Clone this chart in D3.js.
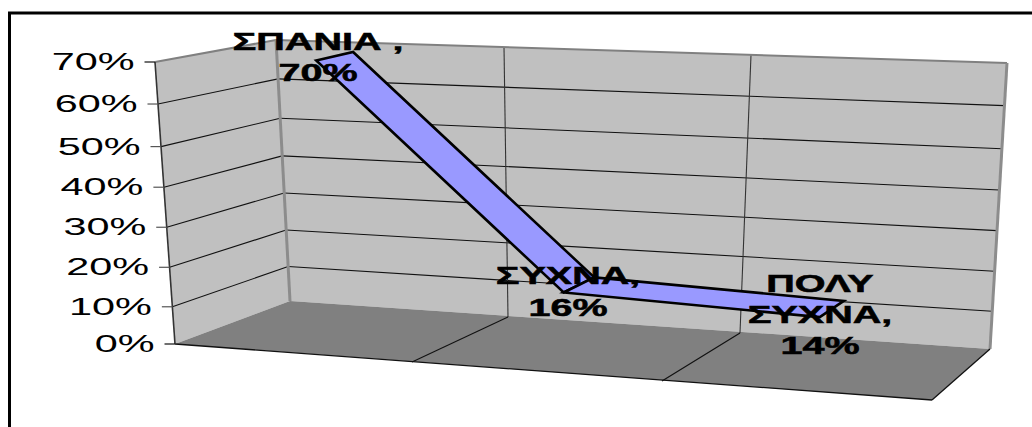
<!DOCTYPE html>
<html>
<head>
<meta charset="utf-8">
<script src="https://cdnjs.cloudflare.com/ajax/libs/d3/7.8.5/d3.min.js"></script>
<style>
  html, body { margin: 0; padding: 0; background: #fff; }
  svg { display: block; }
  text { font-family: "Liberation Sans", Arial, sans-serif; fill: #000; }
</style>
</head>
<body>
<svg id="chart" width="1032" height="427"></svg>
<script>
// Frequency shares, one ribbon vertex per category
const categories = ["ΣΠΑΝΙΑ", "ΣΥΧΝΑ", "ΠΟΛΥ ΣΥΧΝΑ"];
const values = [70, 16, 14];
const tickValues = [0, 10, 20, 30, 40, 50, 60, 70];
const dataLabels = [["ΣΠΑΝΙΑ ,", "70%"], ["ΣΥΧΝΑ,", "16%"], ["ΠΟΛΥ", "ΣΥΧΝΑ,", "14%"]];

const slots = [0, 1, 2, 3];

// The 3D box is described by its four horizontal rails, each one a pair of scales
const rail = (xs, ys) => ({
  x: d3.scaleLinear().domain(slots).range(xs),
  y: d3.scaleLinear().domain(slots).range(ys)
});
const backFloor  = rail([290, 508, 740, 990], [301, 317, 333, 349]);
const backTop    = rail([276, 504, 751, 1007], [40, 47, 55, 63]);
const frontFloor = rail([175, 412, 662, 932], [344, 362, 381, 400]);
const frontTop   = rail([155, 420, 680, 955], [62, 72, 82, 92]);

// Gridline height along a wall, slightly uneven because of the viewing tilt
const gridHeight = d3.scaleLinear()
  .domain(tickValues)
  .range([0, 0.132, 0.272, 0.414, 0.556, 0.70, 0.851, 1]);

// Ribbon height is proportional to the value
const maxV = d3.max(tickValues);
const ribbonHeight = d3.scaleLinear().domain([0, maxV]).range([0, 1]);

// s: position across the categories, h: height 0..1, d: depth (0 back wall, 1 front)
function project(s, h, d) {
  const mix = d3.interpolateNumber;
  const bx = mix(backFloor.x(s), backTop.x(s))(h);
  const by = mix(backFloor.y(s), backTop.y(s))(h);
  const fx = mix(frontFloor.x(s), frontTop.x(s))(h);
  const fy = mix(frontFloor.y(s), frontTop.y(s))(h);
  return [mix(bx, fx)(d), mix(by, fy)(d)];
}

const svg = d3.select("#chart");
const polygon = pts => "M" + pts.map(p => p.join(",")).join("L") + "Z";
const segment = (sel, a, b, stroke, width) => sel.append("line")
  .attr("x1", a[0]).attr("y1", a[1]).attr("x2", b[0]).attr("y2", b[1])
  .attr("stroke", stroke).attr("stroke-width", width);

// Chart frame, open towards the right and the bottom
svg.append("path")
  .attr("d", "M9.5,427V13H1032")
  .attr("fill", "none").attr("stroke", "#000").attr("stroke-width", 3);

const box = svg.append("g");

// Walls and floor
box.append("path")
  .attr("d", polygon([project(0, 0, 1), project(0, 1, 1), project(0, 1, 0), project(0, 0, 0)]))
  .attr("fill", "#c0c0c0");
box.append("path")
  .attr("d", polygon([project(0, 0, 0), project(0, 1, 0), project(3, 1, 0), project(3, 0, 0)]))
  .attr("fill", "#c0c0c0");
box.append("path")
  .attr("d", polygon([project(0, 0, 1), project(0, 0, 0), project(3, 0, 0), project(3, 0, 1)]))
  .attr("fill", "#808080");

// Horizontal gridlines on the side wall and the back wall
tickValues.slice(1, -1).forEach(v => {
  const h = gridHeight(v);
  segment(box, project(0, h, 1), project(0, h, 0), "#111", 1.1);
  segment(box, project(0, h, 0), project(3, h, 0), "#111", 1.1);
});

// Category dividers on the back wall and across the floor
[1, 2].forEach(s => {
  segment(box, project(s, 0, 0), project(s, 1, 0), "#333", 1.1);
  segment(box, project(s, 0, 0), project(s, 0, 1), "#111", 1.1);
});

// Wall outlines
segment(box, project(0, 1, 1), project(0, 1, 0), "#808080", 2);
segment(box, project(0, 1, 0), project(3, 1, 0), "#808080", 2);
segment(box, project(0, 0, 0), project(0, 1, 0), "#8c8c8c", 3);
segment(box, project(3, 0, 0), project(3, 1, 0), "#8c8c8c", 3);
segment(box, project(0, 0, 1), project(3, 0, 1), "#111", 1.3);
segment(box, project(3, 0, 1), project(3, 0, 0), "#111", 1.3);
segment(box, project(0, 0, 1), project(0, 1, 1), "#333", 1.6);

// Wide lettering shared by the axis and the data labels
const wideText = (sel, x, y, str, anchor, weight, stretch) => sel.append("text")
  .attr("transform", `translate(${x},${y}) scale(${stretch},1)`)
  .attr("text-anchor", anchor)
  .attr("font-size", 23)
  .attr("font-weight", weight)
  .text(str);

// Value axis ticks and labels
tickValues.forEach(v => {
  const p = project(0, gridHeight(v), 1);
  const tickStart = [p[0] - 10.5, p[1]];
  segment(svg, tickStart, p, v === 0 || v === maxV ? "#111" : "#555", 1.2);
  wideText(svg, tickStart[0] - 10, p[1] + 8, v + "%", "end", 400, 1.8);
});

// Ribbon running through the three category centres
const depthBack = 0.36, depthFront = 0.72;
const centre = i => i + 0.5;
const ribbon = svg.append("g");
d3.pairs(values.map((v, i) => ({ h: ribbonHeight(v), s: centre(i) }))).forEach(([a, b]) => {
  ribbon.append("path")
    .attr("d", polygon([
      project(a.s, a.h, depthFront), project(a.s, a.h, depthBack),
      project(b.s, b.h, depthBack), project(b.s, b.h, depthFront)
    ]))
    .attr("fill", "#9999ff")
    .attr("stroke", "#000")
    .attr("stroke-width", 2.6)
    .attr("stroke-linejoin", "miter");
});

// Data labels: category name and value, stacked above one another
const labelAnchors = [[318, 50, 31], [568, 284, 32], [820, 292, 31]];
dataLabels.forEach((lines, i) => {
  const [x, y, step] = labelAnchors[i];
  lines.forEach((line, j) => wideText(svg, x, y + j * step, line, "middle", 700, 1.72)
    .attr("stroke", "#000").attr("stroke-width", 0.5));
});
</script>
</body>
</html>
